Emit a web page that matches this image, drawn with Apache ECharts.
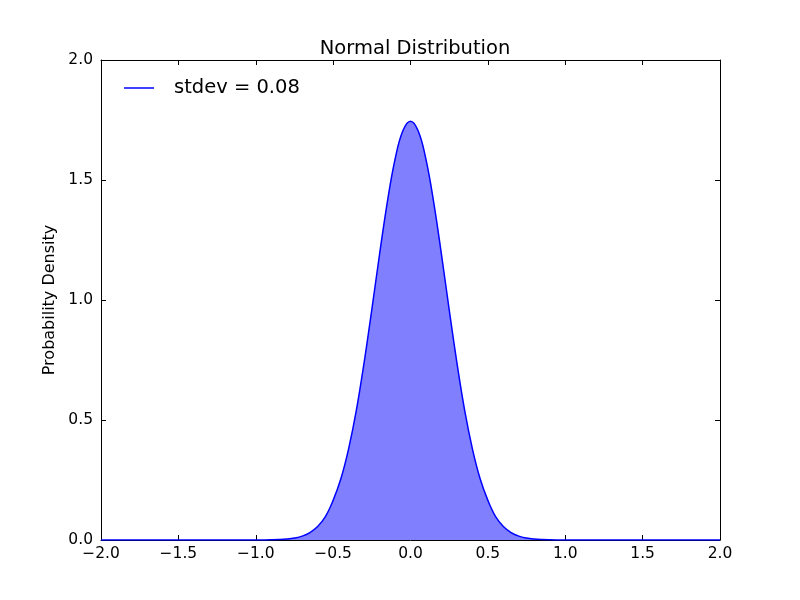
<!DOCTYPE html>
<html>
<head>
<meta charset="utf-8">
<script src="https://cdn.jsdelivr.net/npm/echarts@6/dist/echarts.min.js"></script>
<style>
  html, body { margin: 0; padding: 0; background: #fff; }
  #main { width: 800px; height: 600px; }
</style>
</head>
<body>
<div id="main"></div>
<script>
// values
var xs = [-2.0, -1.5, -1.0, -0.95, -0.9, -0.85, -0.8, -0.75, -0.7, -0.65, -0.6, -0.55,
  -0.5, -0.45, -0.4, -0.35, -0.3, -0.25, -0.2, -0.15, -0.1, -0.05, 0.0,
  0.05, 0.1, 0.15, 0.2, 0.25, 0.3, 0.35, 0.4, 0.45, 0.5, 0.55, 0.6, 0.65,
  0.7, 0.75, 0.8, 0.85, 0.9, 0.95, 1.0, 1.5, 2.0]
var ys = [0.0, 0.0, 0.0001, 0.0003, 0.0007, 0.0017, 0.0038, 0.008, 0.016, 0.031, 0.056, 0.097,
  0.165, 0.255, 0.38, 0.54, 0.738, 0.96, 1.19, 1.407, 1.586, 1.704, 1.745,
  1.704, 1.586, 1.407, 1.19, 0.96, 0.738, 0.54, 0.38, 0.255, 0.165, 0.097, 0.056, 0.031,
  0.016, 0.008, 0.0038, 0.0017, 0.0007, 0.0003, 0.0001, 0.0, 0.0]
var seriesName = 'stdev = 0.08'
var xTicks = [-2.0, -1.5, -1.0, -0.5, 0.0, 0.5, 1.0, 1.5, 2.0]
var yTicks = [0.0, 0.5, 1.0, 1.5, 2.0]

var chartDom = document.getElementById('main')
var myChart = echarts.init(chartDom)
var font = 'DejaVu Sans'

var points = []
for (var i = 0; i < xs.length; i++) points.push([xs[i], ys[i]])

function fmt(v) {
  var s = v.toFixed(1)
  return s.charAt(0) === '-' ? '\u2212' + s.slice(1) : s
}

var tickStyle = { show: true, inside: true, length: 5, lineStyle: { color: '#000', width: 1 } }
var lineStyle = { show: true, onZero: false, lineStyle: { color: '#000', width: 1 } }

var option = {
  animation: false,
  backgroundColor: '#fff',
  title: {
    text: 'Normal Distribution',
    left: 410,
    textAlign: 'center',
    top: 34,
    textStyle: { fontFamily: font, fontSize: 19.5, fontWeight: 'normal', color: '#000' }
  },
  legend: {
    left: 119,
    top: 73,
    icon: 'rect',
    itemWidth: 30,
    itemHeight: 1.5,
    data: [seriesName],
    textStyle: { fontFamily: font, fontSize: 19.5, color: '#000', padding: [0, 0, 0, 15] }
  },
  grid: { left: 101, right: 80, top: 60, bottom: 60, containLabel: false },
  xAxis: [
    {
      type: 'value', min: xTicks[0], max: xTicks[xTicks.length - 1], interval: 0.5,
      axisLine: lineStyle, axisTick: tickStyle, splitLine: { show: false },
      axisLabel: { formatter: fmt, fontFamily: font, fontSize: 15.5, color: '#000', margin: 6 }
    },
    {
      type: 'value', position: 'top', min: xTicks[0], max: xTicks[xTicks.length - 1], interval: 0.5,
      axisLine: lineStyle, axisTick: tickStyle, splitLine: { show: false }, axisLabel: { show: false }
    }
  ],
  yAxis: [
    {
      type: 'value', min: yTicks[0], max: yTicks[yTicks.length - 1], interval: 0.5,
      name: 'Probability Density', nameLocation: 'middle', nameGap: 41,
      nameTextStyle: { fontFamily: font, fontSize: 16, color: '#000' },
      axisLine: lineStyle, axisTick: tickStyle, splitLine: { show: false },
      axisLabel: { formatter: fmt, fontFamily: font, fontSize: 15.5, color: '#000', margin: 8 }
    },
    {
      type: 'value', position: 'right', min: yTicks[0], max: yTicks[yTicks.length - 1], interval: 0.5,
      axisLine: lineStyle, axisTick: tickStyle, splitLine: { show: false }, axisLabel: { show: false }
    }
  ],
  series: [
    {
      name: seriesName,
      type: 'line',
      data: points,
      smooth: 0.4,
      showSymbol: false,
      symbol: 'none',
      itemStyle: { color: '#0000ff' },
      lineStyle: { color: '#0000ff', width: 1.5 },
      areaStyle: { color: '#8080ff', opacity: 1 },
      z: 3
    }
  ]
}

option && myChart.setOption(option)
</script>
</body>
</html>
